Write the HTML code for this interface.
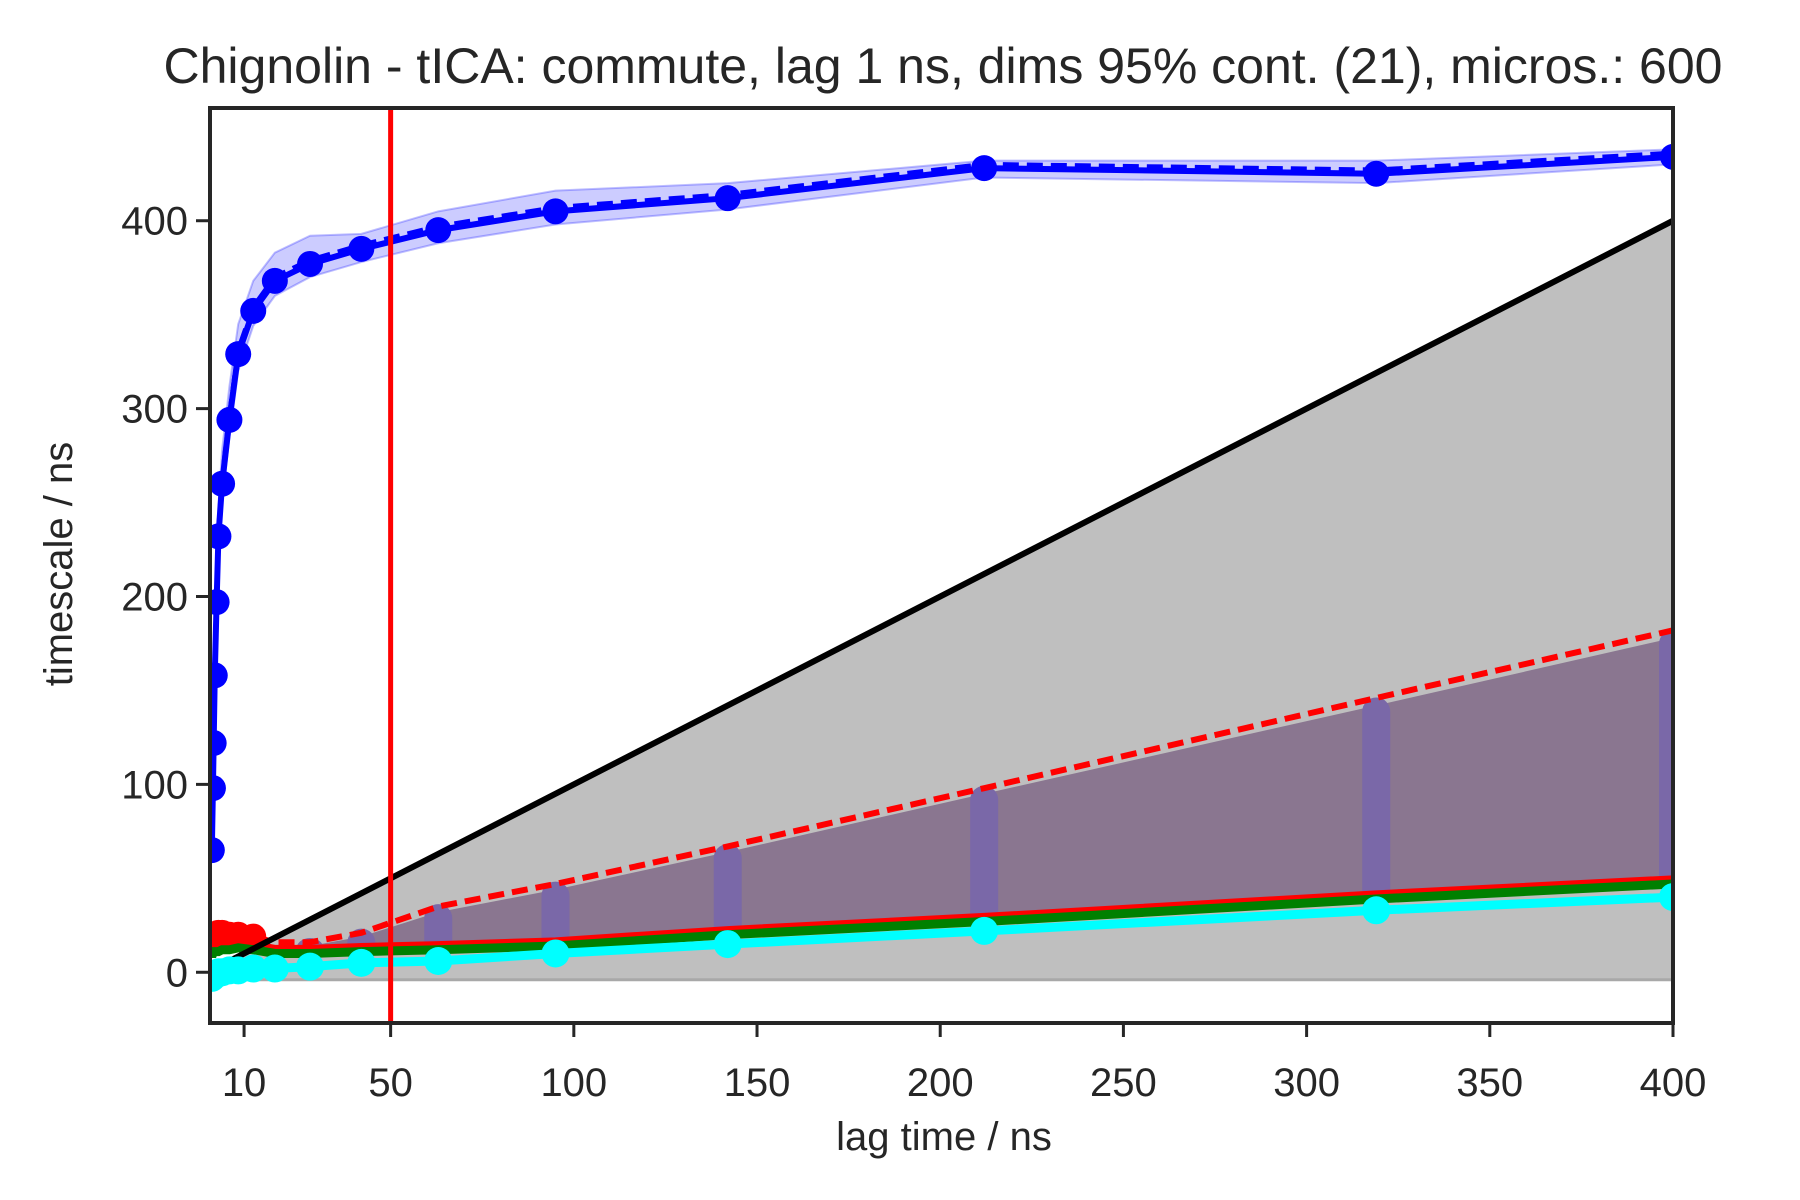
<!DOCTYPE html>
<html><head><meta charset="utf-8"><style>
html,body{margin:0;padding:0;background:#fff;}
svg{display:block;font-family:"Liberation Sans",Arial,sans-serif;}
</style></head><body>
<svg id="chart" width="1800" height="1200" viewBox="0 0 1800 1200">
<text x="943" y="83" font-size="50" fill="#262626" text-anchor="middle">Chignolin - tICA: commute, lag 1 ns, dims 95% cont. (21), micros.: 600</text>
<g id="plot"></g>
<text x="944" y="1150" font-size="40" fill="#262626" text-anchor="middle">lag time / ns</text>
<text transform="translate(72,564) rotate(-90)" font-size="40" fill="#262626" text-anchor="middle">timescale / ns</text>
</svg>
<script>
const lags = [1.2,1.5,1.7,2,2.5,3,4,6,8.4,12.5,18.4,28,42,63,95,142,212,319,400];
const blueVals = [65,98,122,158,197,232,260,294,329,352,368,377,385,395,405,412,428,425,434];
const blueUpper = [70,104,130,168,210,248,278,312,345,368,383,392,393,405,416,420,432,432,438];
const blueLower = [60,92,115,150,188,222,250,285,320,344,360,370,378,388,398,406,423,420,430];
const redTop = [17,18,19,20,20,21,21,20,20,19,16,16,21,35,47,67,98,146,182];
const bandTop = [15,16,17,18,18,19,19,18,17,16,14,14,19,32,44,64,95,142,178];
const greenBottom = [10,10,11,11,11,11,12,12,13,12,10,10,11,12,14,20,27,39,47];
const cyanVals = [-3,-2,-2,-1,-1,0,0,1,1,2,2,3,5,6,10,15,22,33,40];
const xTicks = [10,50,100,150,200,250,300,350,400];
const yTicks = [0,100,200,300,400];
const vline = 50;

const L=210,R=1673,T=108,B=1023, X0=0.7,X1=400,Y0=-27,Y1=460;
const sx=v=>L+(v-X0)/(X1-X0)*(R-L);
const sy=v=>B-(v-Y0)/(Y1-Y0)*(B-T);
const NS="http://www.w3.org/2000/svg";
const svg=document.getElementById('chart');
const plot=document.getElementById('plot');
function mk(tag,attrs,parent){const e=document.createElementNS(NS,tag);for(const k in attrs)e.setAttribute(k,attrs[k]);(parent||plot).appendChild(e);return e;}
const clip=mk('clipPath',{id:'clp'},svg);
mk('rect',{x:L,y:T,width:R-L,height:B-T},clip);
const g=mk('g',{'clip-path':'url(#clp)'});


function pts(xs,ys){return xs.map((x,i)=>sx(x)+','+sy(ys[i])).join(' ');}

let gr=mk('polygon',{points:`${sx(X0)},${sy(-4)} ${sx(400)},${sy(-4)} ${sx(400)},${sy(400)} ${sx(X0)},${sy(X0)}`,fill:'#bfbfbf'},g);


let gl=mk('line',{x1:sx(X0),x2:sx(400),y1:sy(-4),y2:sy(-4),stroke:'#a8a8a8','stroke-width':3},g);



let band=mk('polygon',{points:pts(lags,bandTop)+' '+pts(lags.slice().reverse(),greenBottom.slice().reverse()),fill:'#8a7690'},g);


lags.forEach((x,i)=>{
  if(x<20) return;
  let c=mk('rect',{x:sx(x)-14,y:sy(bandTop[i])-8,width:28,height:sy(greenBottom[i])-sy(bandTop[i])+16,rx:14,fill:'#7a68a8'},g);
  
  
});
function series(vals,color,w,name,dash,r,maxX){
  let p=mk('polyline',{points:pts(lags,vals),fill:'none',stroke:color,'stroke-width':w},g);
  if(dash)p.setAttribute('stroke-dasharray',dash);
  
  
  if(r) lags.forEach((x,i)=>{
    if(maxX && x>maxX) return;
    let c=mk('circle',{cx:sx(x),cy:sy(vals[i]),r:r,fill:color},g);
    
    
  });
}
series(redTop,'#ff0000',6,'red-series','16,8',13,13);
series(greenBottom.map(v=>v+3),'#ff0000',6,'red-lower-series',null,0);
series(greenBottom,'#008000',9,'green-series',null,0);

let bl=mk('line',{x1:sx(X0),y1:sy(X0),x2:sx(400),y2:sy(400),stroke:'#000','stroke-width':6},g);



series(cyanVals,'#00ffff',9,'cyan-series',null,14);

let bb=mk('polygon',{points:pts(lags,blueUpper)+' '+pts(lags.slice().reverse(),blueLower.slice().reverse()),fill:'rgba(0,0,255,0.2)',stroke:'rgba(0,0,255,0.25)','stroke-width':2},g);


series(blueVals.map(v=>v+2),'#0000ff',5,'blue-dashed','16,8',0);
series(blueVals,'#0000ff',6,'blue-series',null,13);

let rv=mk('line',{x1:sx(vline),x2:sx(vline),y1:T,y2:B,stroke:'#ff0000','stroke-width':5});



let fr=mk('rect',{x:L,y:T,width:R-L,height:B-T,fill:'none',stroke:'#262626','stroke-width':4});



xTicks.forEach(v=>{
  let t=mk('line',{x1:sx(v),x2:sx(v),y1:B,y2:B+14,stroke:'#262626','stroke-width':3});
  
  
  let s=mk('text',{x:sx(v),y:1096,'font-size':40,fill:'#262626','text-anchor':'middle'});
  s.textContent=v;
  
  
});
yTicks.forEach(v=>{
  let t=mk('line',{x1:L-14,x2:L,y1:sy(v),y2:sy(v),stroke:'#262626','stroke-width':3});
  
  
  let s=mk('text',{x:L-22,y:sy(v)+14,'font-size':40,fill:'#262626','text-anchor':'end'});
  s.textContent=v;
  
  
});
</script>
</body></html>
